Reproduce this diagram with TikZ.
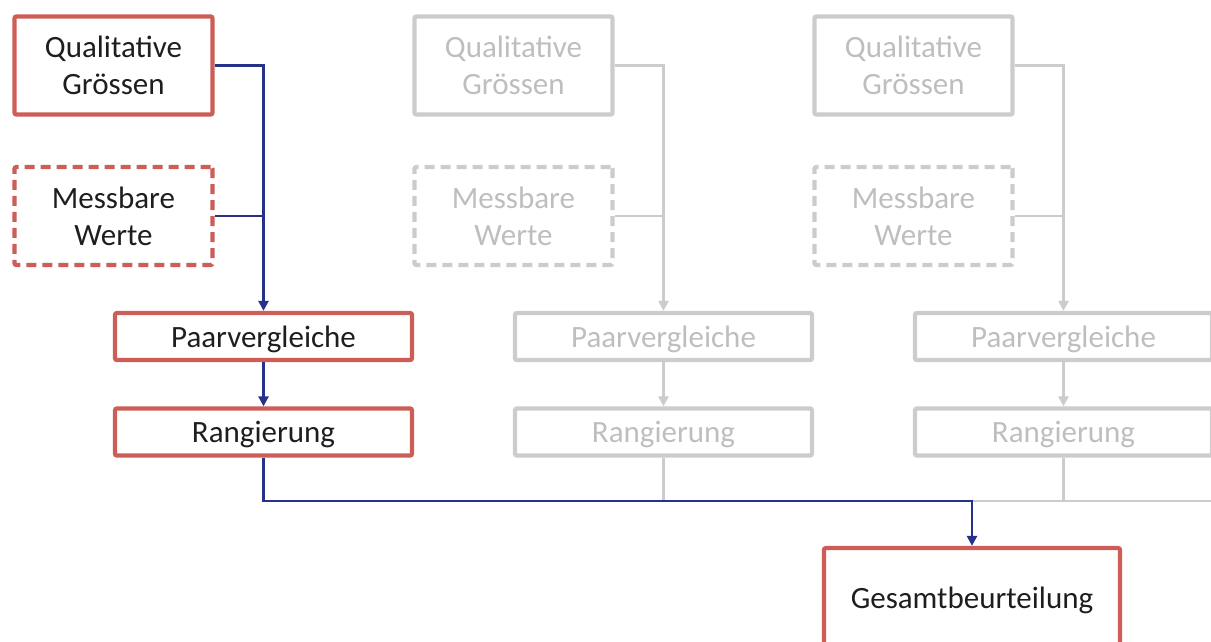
\documentclass[tikz,border=0pt]{standalone}
\usepackage{fontspec}
\setmainfont{Carlito}
\usetikzlibrary{arrows.meta}
\definecolor{boxred}{RGB}{205,93,87}
\definecolor{navy}{RGB}{38,50,135}
\definecolor{lgray}{RGB}{204,204,204}
\definecolor{tgray}{RGB}{190,190,190}
\definecolor{tdark}{RGB}{30,30,30}
\tikzset{
  base/.style={draw, line width=4.3pt, rounded corners=2pt, align=center, inner sep=0pt,
    font=\fontsize{31}{37}\selectfont},
  redbox/.style={base, draw=boxred, text=tdark},
  graybox/.style={base, draw=lgray, text=tgray},
  bigbox/.style={minimum width=198pt, minimum height=98pt},
  flatbox/.style={minimum width=297pt, minimum height=47pt, text depth=0pt},
  dashbox/.style={dash pattern=on 10pt off 6pt, rounded corners=2pt},
  navyline/.style={draw=navy, line width=2.8pt},
  grayline/.style={draw=lgray, line width=2.5pt},
  arr/.style={-{Triangle[length=10pt,width=10pt]}},
}
\begin{document}
\begin{tikzpicture}[x=1pt,y=-1pt]
\useasboundingbox (0,0) rectangle (1211,641);
\clip (0,0) rectangle (1211,641);
% column 1 (active)
\node[redbox,bigbox] (q1) at (113.5,65.5) {Qualitative\\Grössen};
\node[redbox,bigbox,dashbox] (m1) at (113.5,216) {Messbare\\Werte};
\node[redbox,flatbox] (p1) at (263.5,336.5) {Paarvergleiche};
\node[redbox,flatbox] (r1) at (263.5,432) {Rangierung};
% column 2 (gray)
\node[graybox,bigbox] (q2) at (513.5,65.5) {Qualitative\\Grössen};
\node[graybox,bigbox,dashbox] (m2) at (513.5,216) {Messbare\\Werte};
\node[graybox,flatbox] (p2) at (663.5,336.5) {Paarvergleiche};
\node[graybox,flatbox] (r2) at (663.5,432) {Rangierung};
% column 3 (gray)
\node[graybox,bigbox] (q3) at (913.5,65.5) {Qualitative\\Grössen};
\node[graybox,bigbox,dashbox] (m3) at (913.5,216) {Messbare\\Werte};
\node[graybox,flatbox] (p3) at (1063.5,336.5) {Paarvergleiche};
\node[graybox,flatbox] (r3) at (1063.5,432) {Rangierung};
% result
\node[redbox,minimum width=296pt,minimum height=104pt] (g) at (972,600) {Gesamtbeurteilung};
\coordinate (j) at (972,501);
\coordinate (e) at (1215,501);
% gray connectors
\draw[grayline,arr] (q2.east) -| (p2.north);
\draw[grayline] (m2.east) -- (m2.east -| p2.north);
\draw[grayline,arr] (p2.south) -- (r2.north);
\draw[grayline] (r2.south) -- (r2.south |- j);
\draw[grayline,arr] (q3.east) -| (p3.north);
\draw[grayline] (m3.east) -- (m3.east -| p3.north);
\draw[grayline,arr] (p3.south) -- (r3.north);
\draw[grayline] (r3.south) -- (r3.south |- j);
\draw[grayline] (j) -- (e);
% navy connectors
\draw[navyline,arr] (q1.east) -| (p1.north);
\draw[navyline] (m1.east) -- (m1.east -| p1.north);
\draw[navyline,arr] (p1.south) -- (r1.north);
\draw[navyline,arr] (r1.south) |- (j) -- (g.north);
\end{tikzpicture}
\end{document}
